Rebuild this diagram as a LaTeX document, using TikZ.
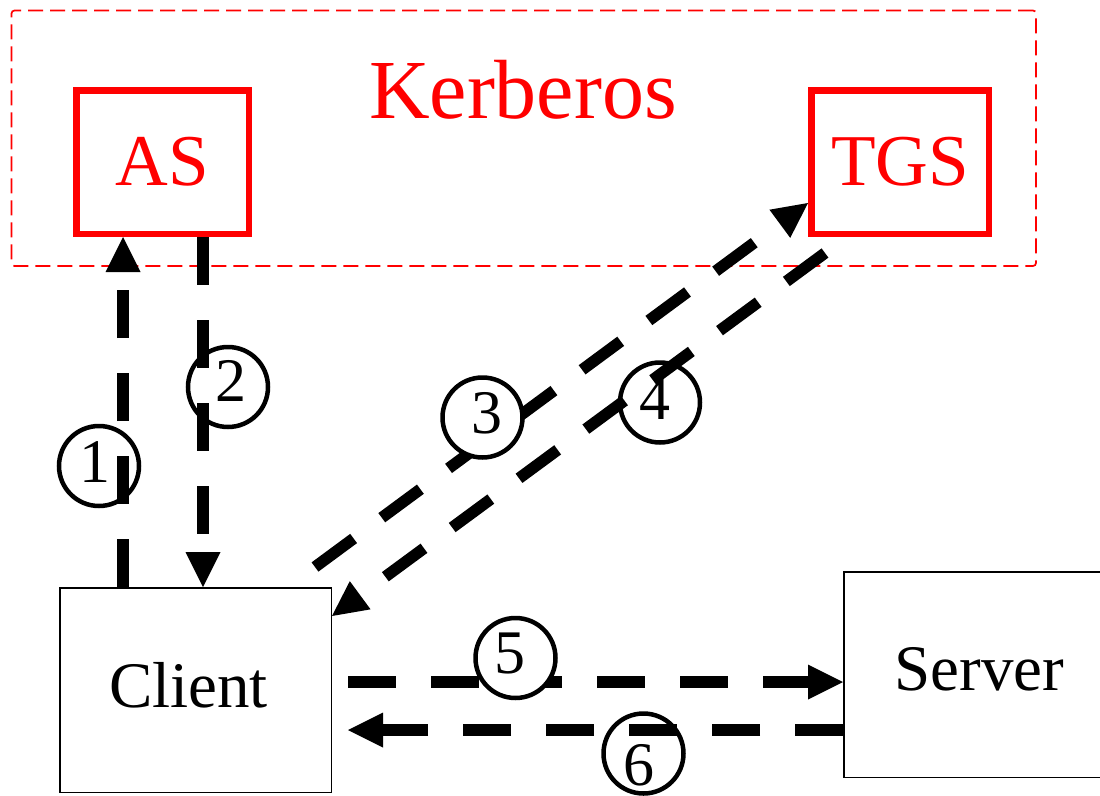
\documentclass[tikz,border=0pt]{standalone}
\usepackage{fontspec}
\setmainfont{Liberation Serif}
\usetikzlibrary{arrows.meta}
\begin{document}
\begin{tikzpicture}[x=1pt,y=-1pt,
  kframe/.style={draw=red, line width=1.7pt, dash pattern=on 15pt off 7pt, rounded corners=3pt, inner sep=0pt},
  kbox/.style={draw=red, line width=6.5pt, minimum width=172.5pt, minimum height=143.5pt, inner sep=0pt, text=red, font=\fontsize{73}{80}\selectfont},
  pbox/.style={draw=black, line width=1.5pt, minimum width=271.5pt, minimum height=204.5pt, inner sep=0pt, font=\fontsize{65}{70}\selectfont},
  num/.style={circle, draw=black, line width=4.5pt, minimum size=80pt, inner sep=0pt},
  dig/.style={font=\fontsize{62}{62}\selectfont, inner sep=0pt},
  msg/.style={line width=11.5pt, dash pattern=on 48pt off 35pt, -{Triangle[length=35pt,width=35pt,line width=0pt]}}
]
\useasboundingbox (0,0) rectangle (1100,795);
\clip (0,0) rectangle (1100,795);

% Kerberos frame and servers
\node[kframe, minimum width=1024.5pt, minimum height=255.5pt] (kdc) at (523.75,138.25) {};
\node[text=red, font=\fontsize{84}{90}\selectfont, anchor=base, inner sep=0pt] (kerb) at (523,118) {Kerberos};
\node[kbox] (as) at (162.5,162) {AS};
\node[kbox, minimum width=177.5pt] (tgs) at (900,162) {TGS};

% Client and server
\node[pbox, text depth=10pt] (client) at (195.5,690) {\hspace*{-14pt}Client};
\node[pbox, minimum height=205.5pt, text depth=12pt] (server) at (979.5,674.5) {Server};

% circles under the arrows
\node[num, label={[dig, xshift=-4pt, yshift=3.5pt]center:1}] (c1) at (99,466) {};
\node[num, label={[dig, xshift=3pt, yshift=6pt]center:2}] (c2) at (228,387) {};
\node[num, label={[dig, xshift=-5.5pt, yshift=3.5pt]center:4}] (c4) at (660,402.5) {};
\node[num, label={[dig, xshift=-4.5pt, yshift=-11.5pt]center:6}] (c6) at (643.5,753.5) {};

% messages
\draw[msg] ([xshift=64pt]client.north west) -- ([xshift=-39.5pt]as.south);
\draw[msg] ([xshift=40.5pt]as.south) -- ([xshift=7.5pt]client.north);
\draw[msg] ([xshift=-17pt,yshift=20pt]client.north east) -- ([yshift=-41pt]tgs.west);
\draw[msg] ([xshift=17pt,yshift=-16pt]tgs.south west) -- ([yshift=-29pt]client.north east);
\draw[msg] ([xshift=16pt,yshift=8pt]client.east) -- ([yshift=-7.5pt]server.west);
\draw[msg] ([yshift=-55.5pt]server.west) -- ([xshift=16pt,yshift=-40pt]client.east);

% circles above the arrows
\node[num, fill=white, label={[dig, xshift=4.5pt, yshift=4pt]center:3}] (c3) at (482.5,417.5) {};
\node[num, fill=white, label={[dig, xshift=-5.5pt, yshift=4.5pt]center:5}] (c5) at (515.5,658) {};
\end{tikzpicture}
\end{document}
